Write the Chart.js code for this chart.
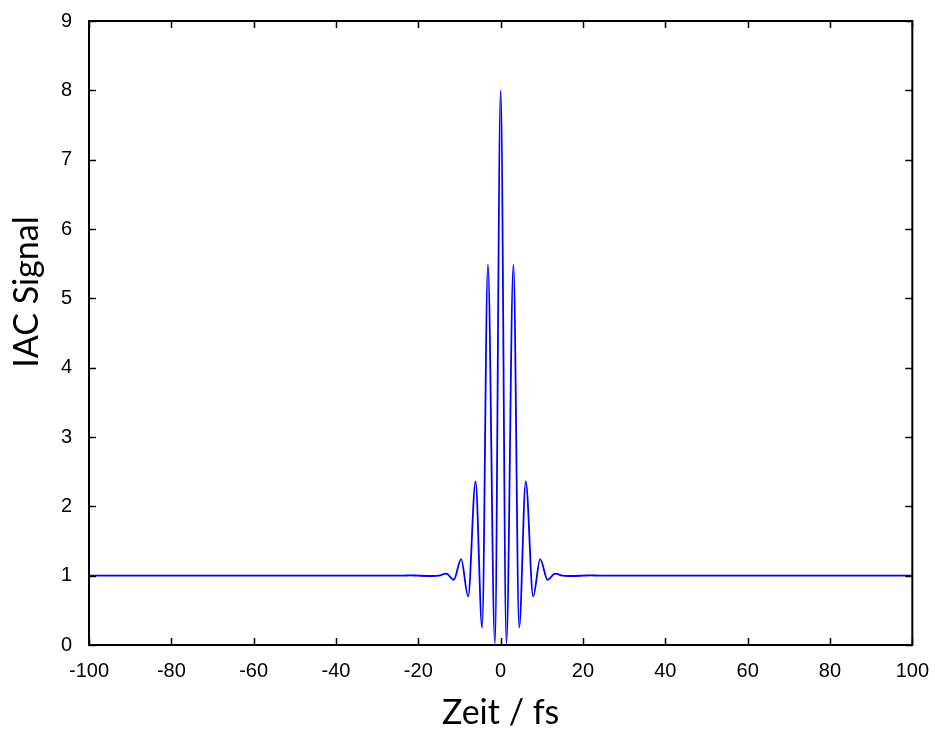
<!DOCTYPE html>
<html>
<head>
<meta charset="utf-8">
<script src="https://cdn.jsdelivr.net/npm/chart.js@4/dist/chart.umd.min.js"></script>
<style>
  html, body { margin: 0; padding: 0; background: #fff; }
  #wrap { width: 935px; height: 729px; }
</style>
</head>
<body>
<div id="wrap"><canvas id="iac" width="935" height="729"></canvas></div>
<script>
// delay time in fs and IAC signal (extrema of the fringes)
var zeit = [-100, -60, -40, -24, -22, -20, -16.5, -15, -13.2, -11.4, -9.6, -7.9, -6.1, -4.5, -3.1, -1.4, 0,
            1.4, 3.1, 4.5, 6.1, 7.9, 9.6, 11.4, 13.2, 15, 16.5, 20, 22, 24, 40, 60, 100];
var signal = [1.0, 1.0, 1.0, 1.0, 1.005, 1.0, 0.995, 1.0, 1.03, 0.94, 1.24, 0.70, 2.36, 0.25, 5.49, 0.02, 8.0,
              0.02, 5.49, 0.25, 2.36, 0.70, 1.24, 0.94, 1.03, 1.0, 0.995, 1.0, 1.005, 1.0, 1.0, 1.0, 1.0];

var xTicks = [-100, -80, -60, -40, -20, 0, 20, 40, 60, 80, 100];
var yTicks = [0, 1, 2, 3, 4, 5, 6, 7, 8, 9];

var points = zeit.map(function (t, i) { return { x: t, y: signal[i] }; });

var tickFont = { family: "'Liberation Sans', Arial, sans-serif", size: 20 };
var titleFont = "34px Lato, 'Open Sans', sans-serif";

// MATLAB style box with inward ticks on all four sides, plus the y label
var frame = {
  id: "frame",
  afterDatasetsDraw: function (chart) {
    var ctx = chart.ctx, a = chart.chartArea;
    var x = chart.scales.x, y = chart.scales.y;
    ctx.save();
    ctx.strokeStyle = "#000";
    ctx.lineWidth = 1.5;
    ctx.beginPath();
    x.ticks.forEach(function (t) {
      var px = Math.round(x.getPixelForValue(t.value)) + 0.5;
      ctx.moveTo(px, a.bottom); ctx.lineTo(px, a.bottom - 7);
      ctx.moveTo(px, a.top); ctx.lineTo(px, a.top + 7);
    });
    y.ticks.forEach(function (t) {
      var py = Math.round(y.getPixelForValue(t.value)) + 0.5;
      ctx.moveTo(a.left, py); ctx.lineTo(a.left + 7, py);
      ctx.moveTo(a.right, py); ctx.lineTo(a.right - 7, py);
    });
    ctx.stroke();
    ctx.lineWidth = 2;
    ctx.strokeRect(a.left, a.top, a.right - a.left, a.bottom - a.top);

    // y axis label sits a bit above the middle, like the original
    ctx.translate(27, 292);
    ctx.rotate(-Math.PI / 2);
    ctx.fillStyle = "#000";
    ctx.font = titleFont;
    ctx.textAlign = "center";
    ctx.textBaseline = "middle";
    ctx.fillText("IAC Signal", 0, 0);
    ctx.restore();
  }
};

var ctx = document.getElementById("iac");
var myChart = new Chart(ctx, {
  type: "scatter",
  data: {
    datasets: [{
      data: points,
      showLine: true,
      borderColor: "#0000ff",
      borderWidth: 1.8,
      pointRadius: 0,
      cubicInterpolationMode: "monotone",
      fill: false
    }]
  },
  options: {
    responsive: false,
    animation: false,
    layout: { padding: { top: 10, right: 10, left: 0, bottom: 0 } },
    plugins: { legend: { display: false }, tooltip: { enabled: false } },
    scales: {
      x: {
        type: "linear",
        min: -100,
        max: 100,
        afterBuildTicks: function (s) { s.ticks = xTicks.map(function (v) { return { value: v }; }); },
        afterFit: function (s) { s.height = 84; },
        grid: { display: false },
        border: { display: false },
        ticks: { color: "#000", padding: 6, maxRotation: 0, font: tickFont },
        title: {
          display: true,
          text: "Zeit / fs",
          color: "#000",
          padding: { top: 0, bottom: -4 },
          font: { family: "Lato, 'Open Sans', sans-serif", size: 34 }
        }
      },
      y: {
        min: 0,
        max: 9,
        afterBuildTicks: function (s) { s.ticks = yTicks.map(function (v) { return { value: v }; }); },
        afterFit: function (s) { s.width = 89; },
        grid: { display: false },
        border: { display: false },
        ticks: { color: "#000", padding: 9, font: tickFont }
      }
    }
  },
  plugins: [frame]
});
</script>
</body>
</html>
